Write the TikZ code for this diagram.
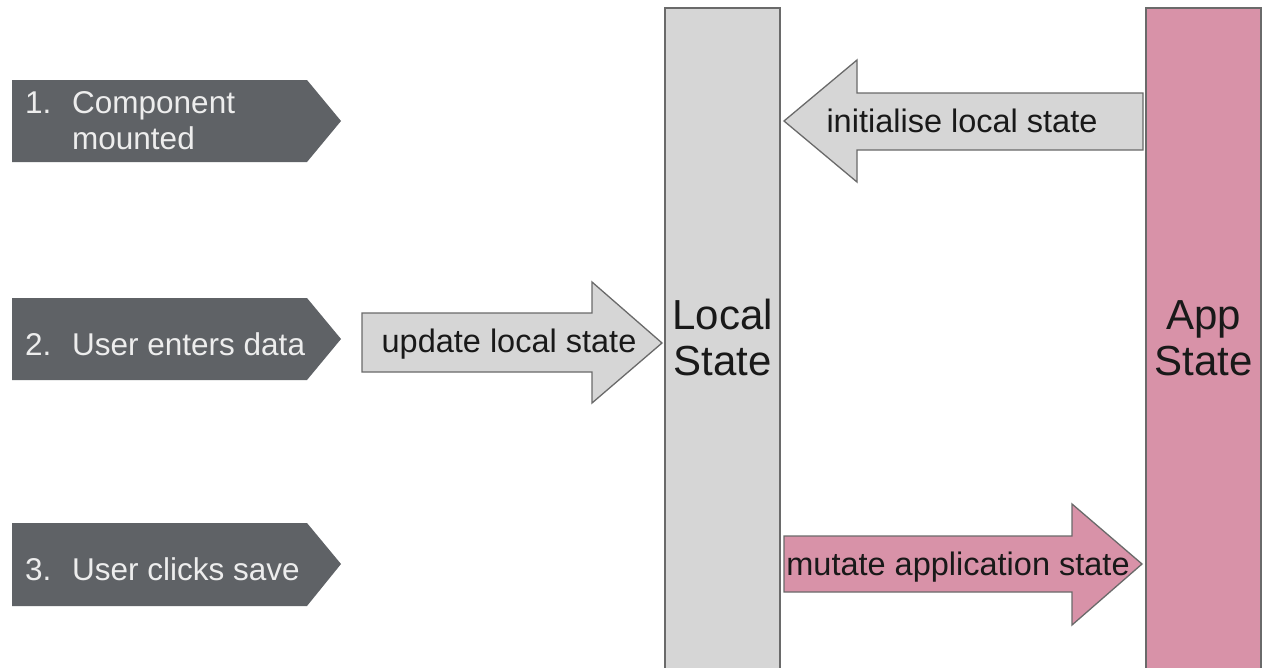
\documentclass[tikz,border=0pt]{standalone}
\usepackage{fontspec}
\setmainfont{Liberation Sans}
\usetikzlibrary{positioning}

\definecolor{stepgrey}{HTML}{5F6266}
\definecolor{localgrey}{HTML}{D6D6D6}
\definecolor{apppink}{HTML}{D892A8}
\definecolor{edgegrey}{HTML}{6A6A6A}

\tikzset{
  stepbox/.style={fill=stepgrey},
  steptext/.style={text=white!93!black, font=\fontsize{31.5}{36}\selectfont, inner sep=0pt, anchor=base west},
  blockarrow/.style={draw=edgegrey, line width=1.3pt, line join=miter},
  arrowtext/.style={font=\fontsize{32.5}{36}\selectfont, inner sep=0pt, anchor=base, text=black!90},
  column/.style={draw=edgegrey, line width=2pt},
  columntext/.style={font=\fontsize{42}{46}\selectfont, inner sep=0pt, anchor=base, text=black!90},
}

\begin{document}
\begin{tikzpicture}[x=1pt,y=-1pt]
  \useasboundingbox[fill=white] (0,0) rectangle (1264,667);

  % state columns
  \draw[column, fill=localgrey] (665,680) -- (665,8) -- (780,8) -- (780,680);
  \draw[column, fill=apppink] (1146,680) -- (1146,8) -- (1261,8) -- (1261,680);
  \node[columntext] (local1) at (722.5,329) {Local};
  \node[columntext] (local2) at (722.5,375) {State};
  \node[columntext] (app1) at (1203.5,329) {App};
  \node[columntext] (app2) at (1203.5,375) {State};

  % steps
  \fill[stepbox] (12,80) -- (307,80) -- (341,121) -- (307,162) -- (12,162) -- cycle;
  \node[steptext] (num1) at (25,113) {1.};
  \node[steptext] (step1a) at (72,113) {Component};
  \node[steptext] (step1b) at (72,149) {mounted};

  \fill[stepbox] (12,298) -- (307,298) -- (341,339) -- (307,380) -- (12,380) -- cycle;
  \node[steptext] (num2) at (25,355) {2.};
  \node[steptext] (step2) at (72,355) {User enters data};

  \fill[stepbox] (12,523) -- (307,523) -- (341,564) -- (307,606) -- (12,606) -- cycle;
  \node[steptext] (num3) at (25,580) {3.};
  \node[steptext] (step3) at (72,580) {User clicks save};

  % arrows
  \draw[blockarrow, fill=localgrey] (1143,93) -- (857,93) -- (857,60) -- (784,121)
    -- (857,182) -- (857,150) -- (1143,150) -- cycle;
  \node[arrowtext] (init) at (962,132) {initialise local state};

  \draw[blockarrow, fill=localgrey] (362,313) -- (592,313) -- (592,282) -- (662,343)
    -- (592,403) -- (592,372) -- (362,372) -- cycle;
  \node[arrowtext] (update) at (509,352) {update local state};

  \draw[blockarrow, fill=apppink] (784,536) -- (1072,536) -- (1072,504) -- (1142,564)
    -- (1072,625) -- (1072,592) -- (784,592) -- cycle;
  \node[arrowtext] (mutate) at (958,575) {mutate application state};
\end{tikzpicture}
\end{document}
